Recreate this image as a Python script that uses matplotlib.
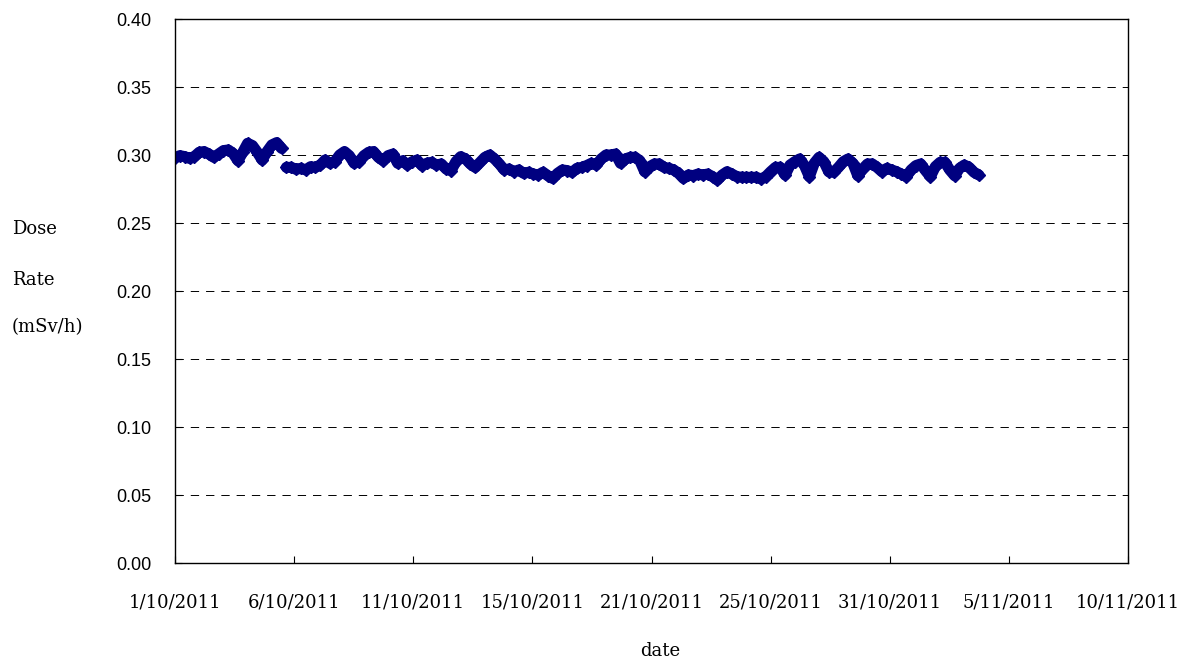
import numpy as np
import pandas as pd
import matplotlib
matplotlib.use("Agg")
import matplotlib.pyplot as plt
import matplotlib.dates as mdates

plt.rcParams['lines.scale_dashes'] = False

# dose rate readings (mSv/h), one every 5 hours from 1/10/2011 00:00
dose_1 = [0.2980, 0.2995, 0.2988, 0.2975, 0.2988, 0.3020, 0.3025, 0.3007, 0.2983, 0.3007,
          0.3032, 0.3037, 0.3012, 0.2958, 0.3020, 0.3086, 0.3069, 0.3020, 0.2963, 0.3025,
          0.3074, 0.3091, 0.3049, 0.2909, 0.2909, 0.2895, 0.2902, 0.2890, 0.2914, 0.2909,
          0.2926, 0.2963, 0.2939, 0.2951]
dose_2 = [0.3000, 0.3025, 0.2995, 0.2939, 0.2951, 0.2995, 0.3020, 0.3025, 0.2983, 0.2958,
          0.2995, 0.3007, 0.2939, 0.2958, 0.2926, 0.2951, 0.2963, 0.2922, 0.2939, 0.2946,
          0.2926, 0.2934, 0.2897, 0.2885, 0.2951, 0.2988, 0.2971, 0.2934, 0.2909, 0.2946,
          0.2983, 0.3000, 0.2971, 0.2934]
dose_3 = [0.2890, 0.2897, 0.2877, 0.2890, 0.2865, 0.2873, 0.2860, 0.2853, 0.2873, 0.2848,
          0.2828, 0.2865, 0.2890, 0.2885, 0.2873, 0.2902, 0.2909, 0.2922, 0.2939, 0.2926,
          0.2971, 0.3000, 0.3000, 0.3007, 0.2939, 0.2971, 0.2983, 0.2983, 0.2958, 0.2877,
          0.2914, 0.2934, 0.2934, 0.2909]
dose_4 = [0.2902, 0.2890, 0.2865, 0.2828, 0.2853, 0.2848, 0.2860, 0.2853, 0.2860, 0.2841,
          0.2816, 0.2853, 0.2877, 0.2860, 0.2841, 0.2836, 0.2836, 0.2836, 0.2836, 0.2824,
          0.2841, 0.2877, 0.2909, 0.2909, 0.2853, 0.2926, 0.2951, 0.2971, 0.2922, 0.2841,
          0.2939, 0.2983, 0.2951, 0.2877]
dose_5 = [0.2873, 0.2909, 0.2951, 0.2971, 0.2939, 0.2848, 0.2897, 0.2934, 0.2934, 0.2909,
          0.2877, 0.2902, 0.2890, 0.2877, 0.2860, 0.2841, 0.2890, 0.2922, 0.2934, 0.2885,
          0.2841, 0.2914, 0.2946, 0.2946, 0.2890, 0.2848, 0.2902, 0.2926, 0.2909, 0.2873,
          0.2853]

dose = dose_1 + dose_2 + dose_3 + dose_4 + dose_5
times = pd.date_range("2011-10-01 00:00", periods=len(dose), freq="5h")
gap = 23  # readings drop after 5/10

tick_labels = ["1/10/2011", "6/10/2011", "11/10/2011", "15/10/2011", "21/10/2011",
               "25/10/2011", "31/10/2011", "5/11/2011", "10/11/2011"]
yticks = [0.00, 0.05, 0.10, 0.15, 0.20, 0.25, 0.30, 0.35, 0.40]

fig = plt.figure(figsize=(11.86, 6.63), dpi=100)
ax = fig.add_axes([175/1186, 1-563/663, (1128-175)/1186, (563-19)/663])

navy = "#000080"
for a, b in [(0, gap), (gap, len(dose))]:
    ax.plot(times[a:b], dose[a:b], color=navy, lw=8, solid_joinstyle="round",
            solid_capstyle="round", marker="D", markersize=6.5,
            markeredgecolor=navy, markerfacecolor=navy)

start = mdates.date2num(pd.Timestamp("2011-10-01"))
ax.set_xlim(start, start + 41)
ax.set_xticks([start + 41*i/8 for i in range(9)])
ax.set_xticklabels(tick_labels, family="DejaVu Serif", fontsize=13)
ax.set_ylim(0, 0.40)
ax.set_yticks(yticks)
ax.set_yticklabels(["%.2f" % v for v in yticks], family="Liberation Sans", fontsize=13)

ax.tick_params(axis="x", direction="in", length=5, pad=22, top=False)
ax.tick_params(axis="y", direction="in", length=5, pad=17, right=False)
for s in ax.spines.values():
    s.set_linewidth(1.0)
    s.set_color("black")

for v in yticks[1:-1]:
    ax.axhline(v, color="black", lw=0.7, linestyle=(0, (6, 5)), zorder=0)

fig.text(12/1186, 1-229/663, "Dose", family="DejaVu Serif", fontsize=13, va="center")
fig.text(12/1186, 1-280/663, "Rate", family="DejaVu Serif", fontsize=13, va="center")
fig.text(12/1186, 1-327/663, "(mSv/h)", family="DejaVu Serif", fontsize=13, va="center")
fig.text(660/1186, 1-651/663, "date", family="DejaVu Serif", fontsize=13, ha="center", va="center")

fig.savefig("out.png", dpi=100)
